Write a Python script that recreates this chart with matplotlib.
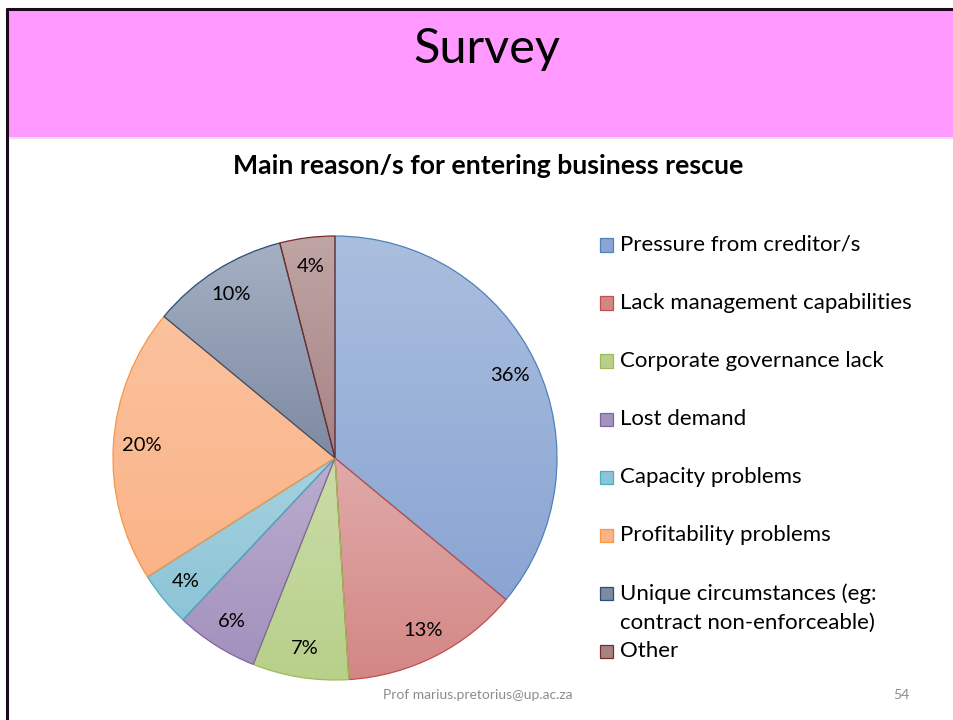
import numpy as np
import matplotlib
matplotlib.use('Agg')
import matplotlib.pyplot as plt
from matplotlib.colors import LinearSegmentedColormap
from matplotlib.patches import Rectangle
from matplotlib.lines import Line2D

plt.rcParams['font.family'] = ['Lato', 'DejaVu Sans']

# survey answers, clockwise from 12 o'clock
reasons = ['Pressure from creditor/s',
           'Lack management capabilities',
           'Corporate governance lack',
           'Lost demand',
           'Capacity problems',
           'Profitability problems',
           'Unique circumstances (eg:\ncontract non-enforceable)',
           'Other']
shares = [36, 13, 7, 6, 4, 20, 10, 4]

# top / bottom colours of each slice gradient, plus outline colour
light = ['#AABEDE', '#E0AAA9', '#CADCA8', '#BAADCD', '#A6D2DE', '#FBC29E', '#A4B0C2', '#C0A5A5']
dark = ['#8AA5D3', '#D38785', '#B8D08A', '#A391BE', '#8CC4D7', '#FAB387', '#7D8AA2', '#A58383']
edges = ['#4F81BD', '#C0504D', '#9BBB59', '#8064A2', '#4BACC6', '#F79646', '#2C4D75', '#772C2A']

W, H = 954, 720


def fx(px):
    return px / W


def fy(py):
    return 1 - py / H


fig = plt.figure(figsize=(W / 100, H / 100), dpi=100)

# slide header band and frame
fig.add_artist(Rectangle((fx(9), fy(137)), 1 - fx(9), fy(10) - fy(137),
                         transform=fig.transFigure, facecolor='#FF99FF',
                         edgecolor='none', zorder=0))
fig.add_artist(Line2D([fx(9), 1], [fy(137.5), fy(137.5)], transform=fig.transFigure,
                      color='#E6DDE6', lw=1.2))
fig.add_artist(Line2D([fx(7.5), fx(7.5)], [0, fy(8)], transform=fig.transFigure,
                      color='#1A0A1A', lw=2.2, solid_capstyle='butt'))
fig.add_artist(Line2D([fx(6.5), 1], [fy(8.5), fy(8.5)], transform=fig.transFigure,
                      color='#1A0A1A', lw=2.2, solid_capstyle='butt'))

fig.text(fx(487), fy(49), 'Survey', ha='center', va='center', fontsize=35, color='black')
fig.text(fx(488), fy(166), 'Main reason/s for entering business rescue',
         ha='center', va='center', fontsize=19.2, fontweight='bold', color='black')

# pie
R = 222
pad = 228
ax = fig.add_axes([fx(335 - pad), fy(458 + pad), 2 * pad / W, 2 * pad / H])
wedges, texts, autotexts = ax.pie(shares, startangle=90, counterclock=False, radius=1,
                                  autopct='%1.0f%%', pctdistance=0.87,
                                  wedgeprops=dict(linewidth=0.9),
                                  textprops=dict(fontsize=14.5, color='black'))

grad = np.linspace(0, 1, 256).reshape(-1, 1)
for w, lo, hi, ec in zip(wedges, light, dark, edges):
    ext = w.get_path().get_extents()
    cmap = LinearSegmentedColormap.from_list('slice', [hi, lo])
    im = ax.imshow(grad, extent=[ext.x0, ext.x1, ext.y0, ext.y1], origin='lower',
                   cmap=cmap, aspect='auto', zorder=1, interpolation='bilinear')
    im.set_clip_path(w)
    w.set_facecolor('none')
    w.set_edgecolor(ec)
    w.set_zorder(2)
for t in autotexts:
    t.set_zorder(3)

lim = pad / R
ax.set_xlim(-lim, lim)
ax.set_ylim(-lim, lim)
ax.set_aspect('equal')
ax.axis('off')

# legend, one row every 58 px
for i, (lab, lo, hi, ec) in enumerate(zip(reasons, light, dark, edges)):
    yc = 245 + 58 * i
    fig.add_artist(Rectangle((fx(600), fy(yc + 6.5)), 13 / W, 13 / H,
                             transform=fig.transFigure, facecolor=hi,
                             edgecolor=ec, lw=0.9))
    fig.text(fx(620), fy(yc - 10), lab, ha='left', va='top', fontsize=16,
             linespacing=1.58, color='black')

fig.text(fx(478), fy(695), 'Prof marius.pretorius@up.ac.za', ha='center', va='center',
         fontsize=10, color='#8C8C8C')
fig.text(fx(901), fy(695), '54', ha='center', va='center', fontsize=10, color='#8C8C8C')

fig.savefig('out.png', dpi=100)
